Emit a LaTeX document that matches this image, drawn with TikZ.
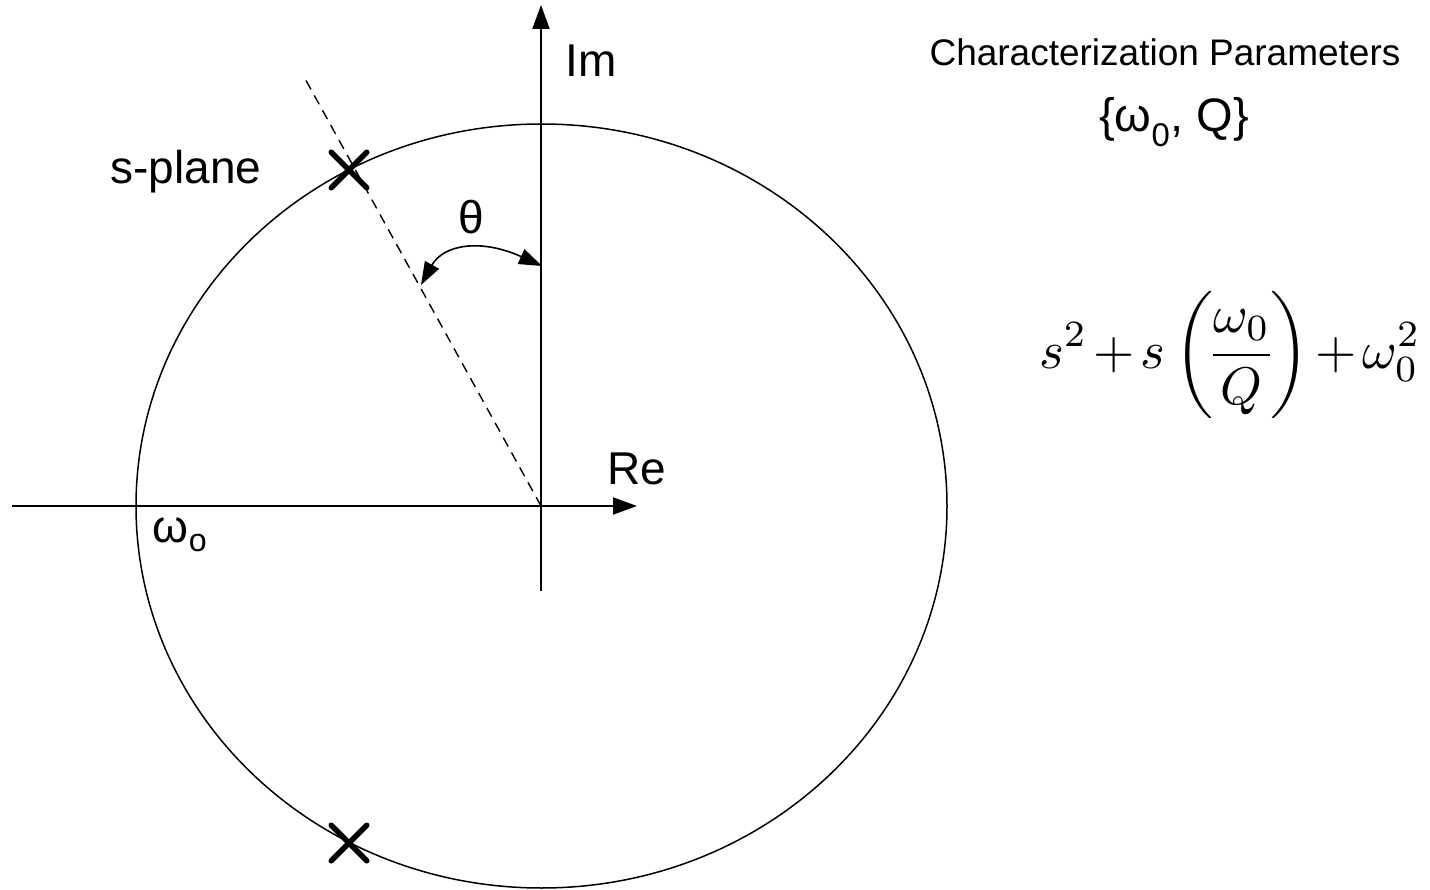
\documentclass[tikz,border=0pt]{standalone}
\usepackage{fontspec}
\setmainfont{Liberation Sans}
\usetikzlibrary{arrows.meta,shapes.misc}
\begin{document}
\begin{tikzpicture}[x=1pt,y=-1pt,
  lbl/.style={font=\fontsize{46}{50}\selectfont, inner sep=0pt},
  axis/.style={line width=2pt, -{Triangle[length=24pt,width=17pt]}},
  pole/.style={cross out, draw, line width=5.5pt, line cap=round, minimum size=30pt, inner sep=0pt},
  thetaarc/.style={line width=1.6pt, {Triangle[length=23pt,width=16pt]}-{Triangle[length=23pt,width=16pt]}},
]
\useasboundingbox (0,0) rectangle (1430,890);
\coordinate (O) at (541,506);
\draw[line width=1.5pt] (541.5,506) ellipse [x radius=405.5, y radius=382];
\coordinate (xl) at (12,506);
\coordinate (xr) at (637,506);
\coordinate (yb) at (541,591);
\coordinate (yt) at (541,5);
\draw[axis] (xl) -- (xr);
\draw[axis] (yb) -- (yt);
\coordinate (dend) at (303,75);
\draw[line width=1.4pt, dash pattern=on 10pt off 7pt] (O) -- (dend);
\node[pole] (p1) at (349,170) {};
\node[pole] (p2) at (349,843) {};
\coordinate (ta) at (421,285);
\coordinate (tb) at (542,266);
\draw[thetaarc] (ta) .. controls (443,245) and (480,238) .. (tb);
\node[lbl] (im) at (591,61) {Im};
\node[lbl] (re) at (637,469) {Re};
\node[lbl] (th) at (471,217) {θ};
\node[lbl] (sp) at (186,172) {s-plane};
\node[lbl] (wo) at (180,535) {ω\textsubscript{o}};
\node[inner sep=0pt, font=\fontsize{37}{40}\selectfont] (cp) at (1165,52) {Characterization Parameters};
\node[inner sep=0pt, font=\fontsize{47}{50}\selectfont] (wq) at (1174,122) {\{ω\textsubscript{0}, Q\}};
\node[inner sep=0pt, scale=5.3] (eq) at (1230,355) {\medmuskip=2mu\nulldelimiterspace=0pt$\displaystyle s^2+s\left(\frac{\omega_0}{Q}\right)+\omega_0^2$};
\end{tikzpicture}
\end{document}
